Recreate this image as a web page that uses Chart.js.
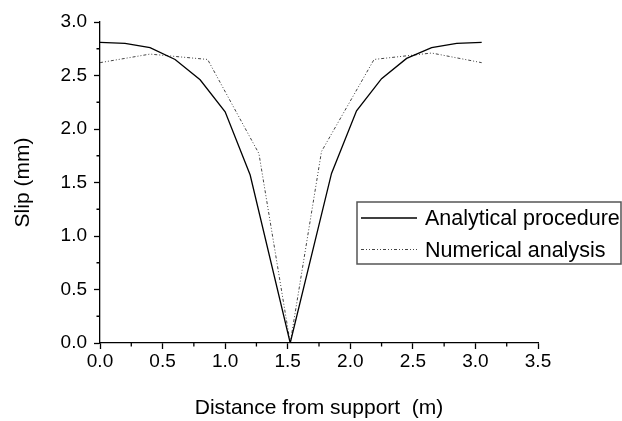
<!DOCTYPE html>
<html>
<head>
<meta charset="utf-8">
<script src="https://cdn.jsdelivr.net/npm/chart.js@4"></script>
<style>
  body { margin: 0; background: #fff; }
  #wrap { width: 622px; height: 421px; position: relative; }
</style>
</head>
<body>
<div id="wrap"><canvas id="chart"></canvas></div>
<script>
// slip along the beam, analytical vs numerical
const analyticalX = [0, 0.2, 0.4, 0.6, 0.8, 1.0, 1.2, 1.52, 1.85, 2.05, 2.25, 2.45, 2.65, 2.85, 3.05];
const analyticalY = [2.81, 2.80, 2.76, 2.65, 2.46, 2.16, 1.57, 0, 1.585, 2.17, 2.47, 2.66, 2.76, 2.80, 2.81];
const numericalX = [0, 0.4, 0.86, 1.27, 1.52, 1.77, 2.19, 2.65, 3.05];
const numericalY = [2.62, 2.70, 2.65, 1.77, 0, 1.79, 2.65, 2.71, 2.62];
const seriesNames = ["Analytical procedure", "Numerical analysis"];
const xTitle = "Distance from support  (m)";
const yTitle = "Slip (mm)";

const FONT = "'Liberation Sans', Arial, sans-serif";

function toPoints(xs, ys) {
  return xs.map((x, i) => ({ x: x, y: ys[i] }));
}

// minor ticks halfway between the labelled ones, plus the boxed legend
const extras = {
  id: 'extras',
  afterDraw(chart) {
    const ctx = chart.ctx;
    const xs = chart.scales.x, ys = chart.scales.y;
    ctx.save();
    ctx.strokeStyle = '#000';
    ctx.lineWidth = 1.3;
    ctx.beginPath();
    for (let v = 0.25; v < 3.5; v += 0.5) {
      const px = xs.getPixelForValue(v);
      ctx.moveTo(px, xs.top);
      ctx.lineTo(px, xs.top + 3.5);
    }
    for (let v = 0.25; v < 3; v += 0.5) {
      const py = ys.getPixelForValue(v);
      ctx.moveTo(ys.right, py);
      ctx.lineTo(ys.right - 3.5, py);
    }
    ctx.stroke();

    // legend
    const bx = 357, by = 202, bw = 264, bh = 62;
    ctx.fillStyle = '#fff';
    ctx.fillRect(bx, by, bw, bh);
    ctx.strokeStyle = '#555';
    ctx.lineWidth = 1.5;
    ctx.strokeRect(bx, by, bw, bh);
    ctx.font = '21.5px ' + FONT;
    ctx.textBaseline = 'middle';
    ctx.fillStyle = '#000';
    chart.data.datasets.forEach((ds, i) => {
      const y = 218 + i * 31.5;
      ctx.beginPath();
      ctx.strokeStyle = ds.borderColor;
      ctx.lineWidth = ds.borderWidth;
      ctx.setLineDash(ds.borderDash || []);
      ctx.moveTo(361, y);
      ctx.lineTo(417, y);
      ctx.stroke();
      ctx.setLineDash([]);
      ctx.fillText(ds.label, 425, y + 1.5);
    });
    ctx.restore();
  }
};

new Chart(document.getElementById('chart'), {
  type: 'scatter',
  data: {
    datasets: [
      {
        label: seriesNames[0],
        data: toPoints(analyticalX, analyticalY),
        showLine: true,
        borderColor: '#000',
        borderWidth: 1.3,
        pointRadius: 0,
        tension: 0
      },
      {
        label: seriesNames[1],
        data: toPoints(numericalX, numericalY),
        showLine: true,
        borderColor: '#444',
        borderWidth: 1,
        borderDash: [3, 2, 1, 2, 1, 2],
        pointRadius: 0,
        tension: 0
      }
    ]
  },
  options: {
    responsive: true,
    maintainAspectRatio: false,
    animation: false,
    layout: { padding: { top: 22, right: 84, bottom: 0, left: 0 } },
    plugins: {
      legend: { display: false },
      tooltip: { enabled: false }
    },
    scales: {
      x: {
        type: 'linear',
        min: 0,
        max: 3.5,
        afterFit(scale) { scale.height = 78; },
        border: { color: '#000', width: 1.3 },
        grid: { drawOnChartArea: false, tickLength: 6, tickColor: '#000', tickWidth: 1.3 },
        ticks: {
          stepSize: 0.5,
          padding: 1,
          color: '#000',
          font: { family: FONT, size: 19 },
          callback: v => v.toFixed(1)
        },
        title: {
          display: true,
          text: xTitle,
          color: '#000',
          font: { family: FONT, size: 21 },
          padding: { top: 0, bottom: 0 }
        }
      },
      y: {
        min: 0,
        max: 3,
        afterFit(scale) { scale.width = 100; },
        border: { color: '#000', width: 1.3 },
        grid: { drawOnChartArea: false, tickLength: 6, tickColor: '#000', tickWidth: 1.3 },
        ticks: {
          stepSize: 0.5,
          padding: 7,
          color: '#000',
          font: { family: FONT, size: 19 },
          callback: v => v.toFixed(1)
        },
        title: {
          display: true,
          text: yTitle,
          color: '#000',
          font: { family: FONT, size: 21 },
          padding: { top: 10.5, bottom: 0 }
        }
      }
    }
  },
  plugins: [extras]
});
</script>
</body>
</html>
